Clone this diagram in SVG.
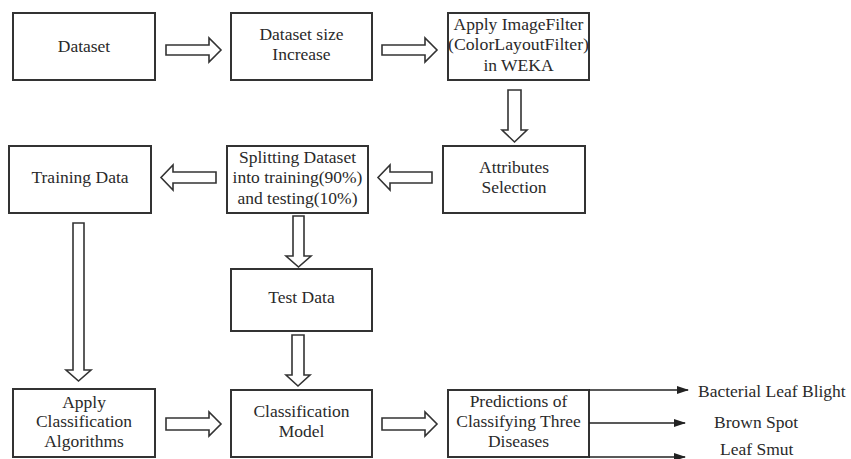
<svg xmlns="http://www.w3.org/2000/svg" width="851" height="459" viewBox="0 0 851 459">
<style>
.box{fill:#fff;stroke:#333;stroke-width:2}
.t{font-family:"Liberation Serif","Times New Roman",serif;font-size:17.5px;fill:#2a2a2a;text-anchor:middle}
.l{font-family:"Liberation Serif","Times New Roman",serif;font-size:17.5px;fill:#2a2a2a}
.ha{fill:#fff;stroke:#333;stroke-width:1.6;stroke-linejoin:miter}
.ln{stroke:#222;stroke-width:1.6;fill:none}
</style>
<defs>
<marker id="ah" markerWidth="12" markerHeight="8" refX="11" refY="4" orient="auto" markerUnits="userSpaceOnUse">
<path d="M0,0 L12,4 L0,8 Z" fill="#222"/>
</marker>
</defs>
<rect width="851" height="459" fill="#fff"/>
<g id="n1"><rect class="box" x="13" y="13" width="142" height="67"/><text class="t" x="84" y="52">Dataset</text></g>
<g id="n2"><rect class="box" x="231" y="13" width="141" height="67"/><text class="t" x="301.5" y="40">Dataset size</text><text class="t" x="301.5" y="60">Increase</text></g>
<g id="n3"><rect class="box" x="448" y="13" width="141" height="67"/><text class="t" x="518.5" y="30">Apply ImageFilter</text><text class="t" x="518.5" y="50" textLength="141" lengthAdjust="spacingAndGlyphs">(ColorLayoutFilter)</text><text class="t" x="518.5" y="71">in WEKA</text></g>
<g id="n4"><rect class="box" x="443" y="146" width="142" height="67"/><text class="t" x="514" y="173">Attributes</text><text class="t" x="514" y="193">Selection</text></g>
<g id="n5"><rect class="box" x="227" y="146" width="141" height="67"/><text class="t" x="297.5" y="163">Splitting Dataset</text><text class="t" x="297.5" y="183">into training(90%)</text><text class="t" x="297.5" y="204">and testing(10%)</text></g>
<g id="n6"><rect class="box" x="9" y="146" width="142" height="67"/><text class="t" x="80" y="183">Training Data</text></g>
<g id="n7"><rect class="box" x="231" y="269" width="141" height="62"/><text class="t" x="301.5" y="303">Test Data</text></g>
<g id="n8"><rect class="box" x="13" y="389" width="142" height="68"/><text class="t" x="84" y="408">Apply</text><text class="t" x="84" y="427">Classification</text><text class="t" x="84" y="447">Algorithms</text></g>
<g id="n9"><rect class="box" x="231" y="390" width="141" height="67"/><text class="t" x="301.5" y="417">Classification</text><text class="t" x="301.5" y="437">Model</text></g>
<g id="n10"><rect class="box" x="448" y="390" width="141" height="67"/><text class="t" x="518.5" y="407">Predictions of</text><text class="t" x="518.5" y="427">Classifying Three</text><text class="t" x="518.5" y="447">Diseases</text></g>
<g id="out1"><text class="l" x="698" y="397">Bacterial Leaf Blight</text></g>
<g id="out2"><text class="l" x="714" y="428">Brown Spot</text></g>
<g id="out3"><text class="l" x="720" y="455">Leaf Smut</text></g>
<g id="connectors">
<polygon class="ha" points="166,45 209,45 209,38 221,50 209,62 209,55 166,55"/>
<polygon class="ha" points="382,45 425,45 425,38 437,50 425,62 425,55 382,55"/>
<polygon class="ha" points="508,90 521,90 521,130 527,130 514.5,142 502,130 508,130"/>
<polygon class="ha" points="432,172 390,172 390,165 378,177.5 390,190 390,183 432,183"/>
<polygon class="ha" points="216,172 173,172 173,165 161,177.5 173,190 173,183 216,183"/>
<polygon class="ha" points="293,216 304,216 304,256 311,256 298.5,267 286,256 293,256"/>
<polygon class="ha" points="73,223 84,223 84,370 91,370 78.5,381 66,370 73,370"/>
<polygon class="ha" points="292,335 304,335 304,375 310,375 298,386 286,375 292,375"/>
<polygon class="ha" points="166,418 209,418 209,412 221,424 209,436 209,430 166,430"/>
<polygon class="ha" points="382,418 425,418 425,412 437,424 425,436 425,430 382,430"/>
<line class="ln" x1="589" y1="390" x2="688" y2="390" marker-end="url(#ah)"/>
<line class="ln" x1="589" y1="423" x2="685" y2="423" marker-end="url(#ah)"/>
<line class="ln" x1="589" y1="457" x2="685" y2="457" marker-end="url(#ah)"/>
</g>
</svg>
